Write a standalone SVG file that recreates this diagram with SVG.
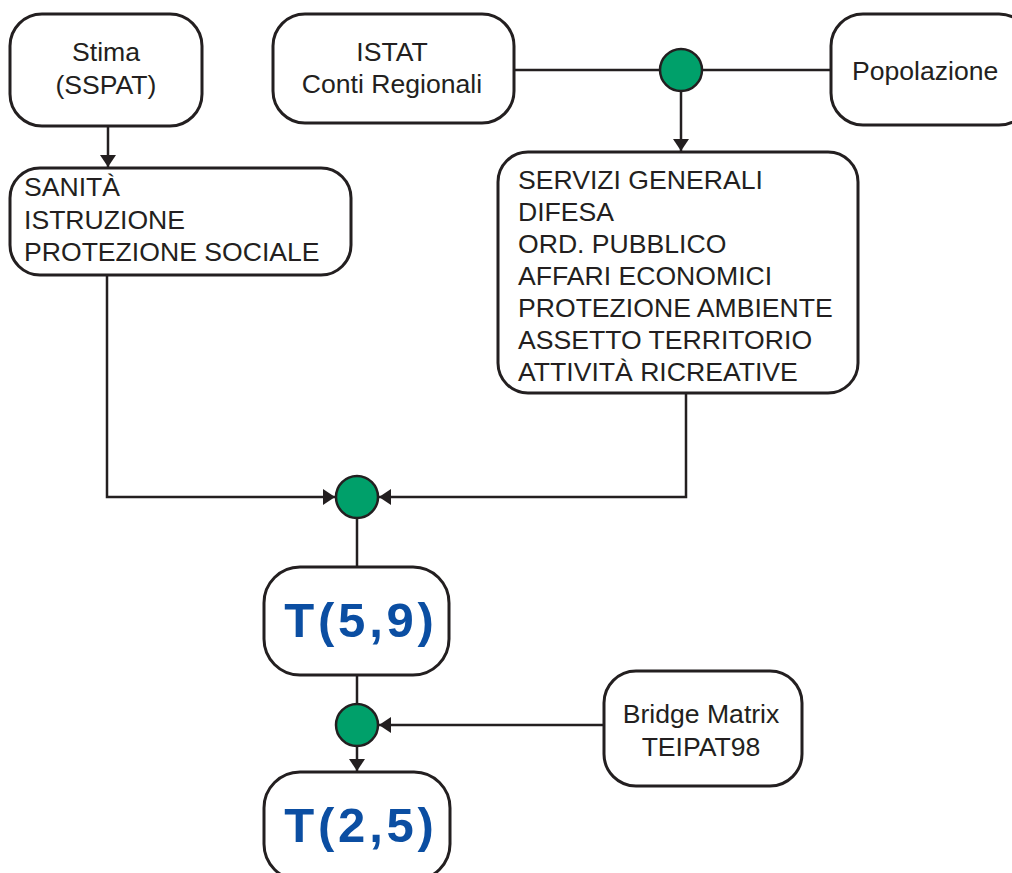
<svg xmlns="http://www.w3.org/2000/svg" width="1012" height="873" viewBox="0 0 1012 873">
<style>
.box{fill:#fff;stroke:#231f20;stroke-width:3}
.dot{fill:#00a06a;stroke:#231f20;stroke-width:2.5}
.t{font-family:"Liberation Sans",Arial,sans-serif;font-size:26.6px;fill:#231f20}
.c{text-anchor:middle}
.big{font-family:"Liberation Sans",Arial,sans-serif;font-size:49px;font-weight:bold;fill:#0b4ea2;letter-spacing:3.8px;text-anchor:middle}
.ln{fill:none;stroke:#231f20;stroke-width:2.5}
</style>
<defs>
<marker id="ah" markerUnits="userSpaceOnUse" markerWidth="14" markerHeight="16" viewBox="0 0 14 16" refX="12" refY="8" orient="auto">
<path d="M0,0 L12,8 L0,16 Z" fill="#231f20"/>
</marker>
</defs>
<rect width="1012" height="873" fill="#fff"/>
<g id="connectors">
<line class="ln" x1="108" y1="126" x2="108" y2="167" marker-end="url(#ah)"/>
<line class="ln" x1="514" y1="70" x2="660" y2="70"/>
<line class="ln" x1="831" y1="70" x2="702" y2="70"/>
<line class="ln" x1="681" y1="91" x2="681" y2="151" marker-end="url(#ah)"/>
<polyline class="ln" points="107,275 107,497 335,497" marker-end="url(#ah)"/>
<polyline class="ln" points="686,393 686,497 379,497" marker-end="url(#ah)"/>
<line class="ln" x1="357" y1="518" x2="357" y2="567"/>
<line class="ln" x1="357" y1="675" x2="357" y2="704"/>
<line class="ln" x1="604" y1="725" x2="379" y2="725" marker-end="url(#ah)"/>
<line class="ln" x1="357" y1="746" x2="357" y2="771" marker-end="url(#ah)"/>
</g>
<g id="stima">
<rect class="box" x="10" y="14" width="192" height="112" rx="32"/>
<text class="t c" x="106" y="61">Stima</text>
<text class="t c" x="106" y="94">(SSPAT)</text>
</g>
<g id="istat">
<rect class="box" x="273" y="14" width="241" height="109" rx="32"/>
<text class="t c" x="392" y="61">ISTAT</text>
<text class="t c" x="392" y="93">Conti Regionali</text>
</g>
<g id="popolazione">
<rect class="box" x="831" y="14" width="200" height="111" rx="32"/>
<text class="t" x="852" y="80">Popolazione</text>
</g>
<g id="sanita">
<rect class="box" x="10" y="168" width="341" height="107" rx="30"/>
<text class="t" x="24" y="196">SANITÀ</text>
<text class="t" x="24" y="229">ISTRUZIONE</text>
<text class="t" x="24" y="261">PROTEZIONE SOCIALE</text>
</g>
<g id="servizi">
<rect class="box" x="498" y="152" width="360" height="241" rx="30"/>
<text class="t" x="518" y="189">SERVIZI GENERALI</text>
<text class="t" x="518" y="221">DIFESA</text>
<text class="t" x="518" y="253">ORD. PUBBLICO</text>
<text class="t" x="518" y="285">AFFARI ECONOMICI</text>
<text class="t" x="518" y="317">PROTEZIONE AMBIENTE</text>
<text class="t" x="518" y="349">ASSETTO TERRITORIO</text>
<text class="t" x="518" y="381">ATTIVITÀ RICREATIVE</text>
</g>
<g id="join1"><circle class="dot" cx="681" cy="70" r="21"/></g>
<g id="join2"><circle class="dot" cx="357" cy="497" r="21"/></g>
<g id="t59">
<rect class="box" x="264" y="567" width="185" height="108" rx="36"/>
<text class="big" x="361" y="637">T(5,9)</text>
</g>
<g id="join3"><circle class="dot" cx="357" cy="725" r="21"/></g>
<g id="bridge">
<rect class="box" x="604" y="671" width="198" height="115" rx="32"/>
<text class="t c" x="701" y="723">Bridge Matrix</text>
<text class="t c" x="701" y="756">TEIPAT98</text>
</g>
<g id="t25">
<rect class="box" x="264" y="772" width="186" height="108" rx="36"/>
<text class="big" x="361" y="842">T(2,5)</text>
</g>
</svg>
